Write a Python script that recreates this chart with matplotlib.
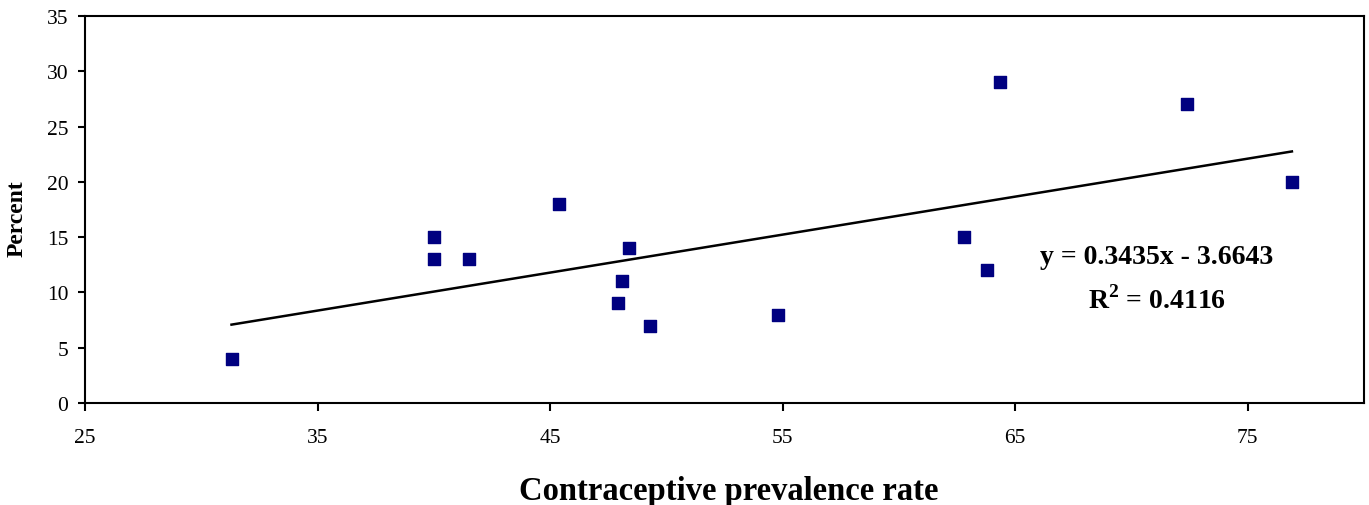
import matplotlib
matplotlib.use("Agg")
import matplotlib.pyplot as plt
import numpy as np

cpr = [31.3, 40.0, 40.0, 41.5, 45.4, 47.9, 48.1, 48.4, 49.3, 54.8, 62.8, 63.8, 64.35, 72.4, 76.9]
percent = [4, 15, 13, 13, 18, 9, 11, 14, 7, 8, 15, 12, 29, 27, 20]
slope, intercept = 0.3435, -3.6643
eq_text = "y = 0.3435x - 3.6643"
r2_text = "R$^{2}$ = 0.4116"

plt.rcParams['font.family'] = ['Liberation Serif', 'DejaVu Serif']
plt.rcParams['mathtext.fontset'] = 'custom'
plt.rcParams['mathtext.rm'] = 'Liberation Serif:bold'

W, H = 1369, 506
fig = plt.figure(figsize=(W / 100, H / 100), dpi=100)
ax = fig.add_axes([85 / W, 1 - 404 / H, (1364 - 85) / W, (404 - 17) / H])

ax.scatter(cpr, percent, marker='s', s=80, color='#000080', zorder=3)
xs = np.array([min(cpr), max(cpr)])
ax.plot(xs, slope * xs + intercept, color='black', lw=1.8, zorder=2)

ax.set_xlim(25, 80)
ax.set_ylim(0, 35)
ax.set_xticks([25, 35, 45, 55, 65, 75])
ax.set_yticks([0, 5, 10, 15, 20, 25, 30, 35])
ax.tick_params(axis='x', direction='out', length=6, width=1.5, labelsize=15.5, pad=12)
ax.tick_params(axis='y', direction='out', length=5, width=1.5, labelsize=15.5, pad=7)
for s in ax.spines.values():
    s.set_linewidth(1.5)

fig.text(729 / W, 6 / H, "Contraceptive prevalence rate", fontsize=23.5, fontweight='bold',
         ha='center', va='baseline')
fig.text(17.5 / W, 1 - 219 / H, "Percent", fontsize=17, fontweight='bold',
         ha='center', va='center', rotation=90)

fig.text(1157 / W, 1 - 258 / H, eq_text, fontsize=20, fontweight='bold', ha='center', va='center')
fig.text(1157 / W, 1 - 300 / H, r2_text, fontsize=20, fontweight='bold', ha='center', va='center')

fig.savefig("out.png", dpi=100)
